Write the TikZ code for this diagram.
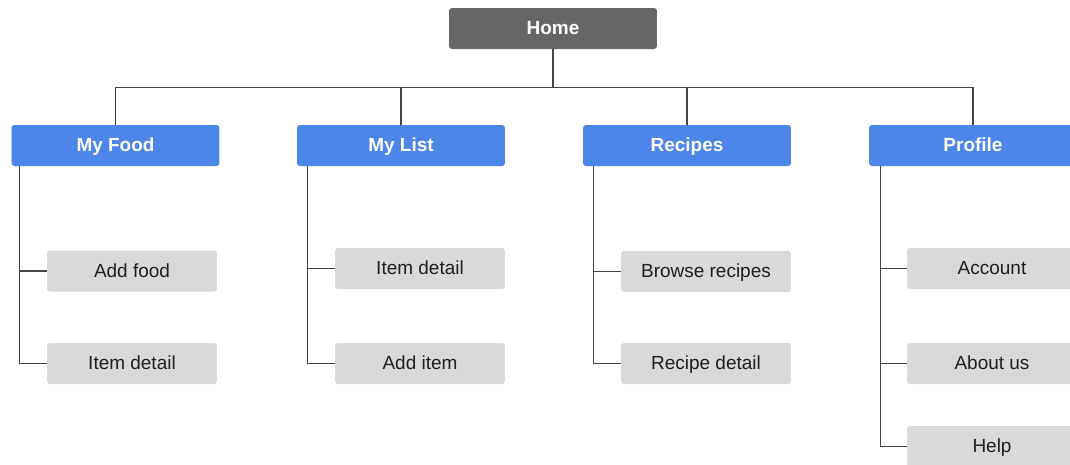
\documentclass[tikz,border=0pt]{standalone}
\usepackage{fontspec}
\setmainfont{Liberation Sans}
\definecolor{homegray}{HTML}{666666}
\definecolor{tabblue}{HTML}{4C86E9}
\definecolor{pagegray}{HTML}{D9D9D9}
\definecolor{wire}{HTML}{454545}
\tikzset{
  home/.style={fill=homegray,text=white,font=\fontsize{10.8}{12}\selectfont\bfseries,
    rounded corners=1.7pt,minimum width=4.16cm,minimum height=0.82cm,
    text height=1.6ex,text depth=0.3ex},
  tab/.style={home,fill=tabblue},
  page/.style={fill=pagegray,text=black!88,font=\fontsize{10.8}{12}\selectfont,
    rounded corners=1.7pt,minimum width=3.4cm,minimum height=0.82cm,
    text height=1.6ex,text depth=0.3ex},
  wire/.style={draw=wire,line width=0.8pt}
}
\begin{document}
\begin{tikzpicture}[x=0.02cm,y=-0.02cm]
      \clip (0,0) rectangle (1070,464);
      \draw
        (553,28.5) node[home] (home){Home}
        (115.5,145.5) node[tab] (food){My Food}
        (401,145.5) node[tab] (list){My List}
        (687,145.5) node[tab] (recipes){Recipes}
        (973,145.5) node[tab] (profile){Profile};
      \draw
        (132,271) node[page] (addfood){Add food}
        (132,363.5) node[page] (fooddetail){Item detail}
        (420,268.5) node[page] (listdetail){Item detail}
        (420,363.5) node[page] (additem){Add item}
        (706,271.5) node[page] (browse){Browse recipes}
        (706,363.5) node[page] (recipedetail){Recipe detail}
        (992,268.5) node[page] (account){Account}
        (992,363.5) node[page] (about){About us}
        (992,446.5) node[page] (help){Help};
      % bus under Home and the rails down the left of each tab
      \coordinate (bus) at (553,87.5);
      \coordinate (foodrail) at ([xshift=0.17cm]food.south west);
      \coordinate (listrail) at ([xshift=0.22cm]list.south west);
      \coordinate (reciperail) at ([xshift=0.22cm]recipes.south west);
      \coordinate (profilerail) at ([xshift=0.24cm]profile.south west);
      \begin{scope}[wire]
        \draw (home) -- (bus);
        \draw (food.north) |- (bus) -| (profile.north);
        \draw (list.north) -- (list.north |- bus);
        \draw (recipes.north) -- (recipes.north |- bus);
        \draw (foodrail) |- (fooddetail.west);
        \draw (foodrail |- addfood) -- (addfood.west);
        \draw (listrail) |- (additem.west);
        \draw (listrail |- listdetail) -- (listdetail.west);
        \draw (reciperail) |- (recipedetail.west);
        \draw (reciperail |- browse) -- (browse.west);
        \draw (profilerail) |- (help.west);
        \draw (profilerail |- account) -- (account.west);
        \draw (profilerail |- about) -- (about.west);
      \end{scope}
    \end{tikzpicture}
\end{document}
